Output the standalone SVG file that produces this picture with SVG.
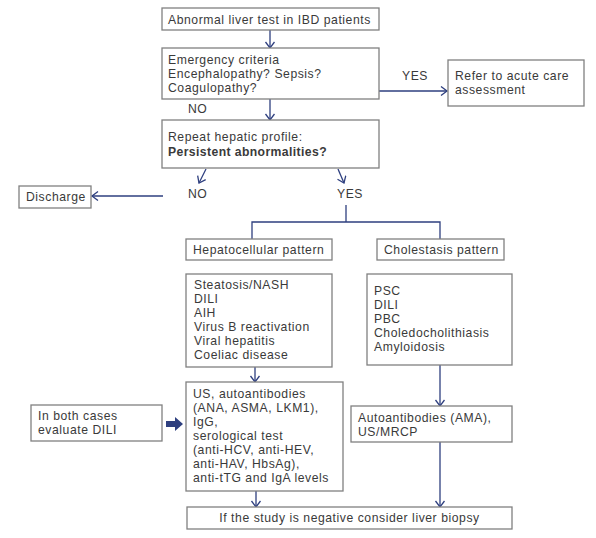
<svg xmlns="http://www.w3.org/2000/svg" width="596" height="538" viewBox="0 0 596 538">
<style>
.box{fill:#fff;stroke:#808080;stroke-width:1.3}
.t{font-family:"Liberation Sans",Arial,sans-serif;font-size:12.2px;letter-spacing:0.55px;fill:#3a3a3a}
.b{font-weight:bold;letter-spacing:0.4px}
.c{fill:none;stroke:#2e3f7f;stroke-width:1.3}
</style>
<defs>
<marker id="ah" markerUnits="userSpaceOnUse" markerWidth="10" markerHeight="12" refX="7" refY="5" orient="auto">
<path d="M1,0.5 L7,5 L1,9.5" fill="none" stroke="#2e3f7f" stroke-width="1.3"/>
</marker>
</defs>
<rect width="596" height="538" fill="#fff"/>
<g id="connectors">
<line class="c" x1="270" y1="30" x2="270" y2="48" marker-end="url(#ah)"/>
<line class="c" x1="379" y1="91" x2="447" y2="91" marker-end="url(#ah)"/>
<line class="c" x1="270" y1="99" x2="270" y2="120" marker-end="url(#ah)"/>
<line class="c" x1="206" y1="169" x2="199" y2="183" marker-end="url(#ah)"/>
<line class="c" x1="338" y1="169" x2="344" y2="183" marker-end="url(#ah)"/>
<line class="c" x1="163" y1="196" x2="92" y2="196" marker-end="url(#ah)"/>
<polyline class="c" points="346,205 346,222"/>
<polyline class="c" points="252,239 252,222 440,222 440,239"/>
<line class="c" x1="255" y1="367" x2="255" y2="382" marker-end="url(#ah)"/>
<line class="c" x1="440" y1="365" x2="440" y2="406" marker-end="url(#ah)"/>
<line class="c" x1="440" y1="442" x2="440" y2="507" marker-end="url(#ah)"/>
<line class="c" x1="256" y1="491" x2="256" y2="507" marker-end="url(#ah)"/>
<path d="M166,421 L175,421 L175,417 L183,424 L175,431 L175,427 L166,427 Z" fill="#2e3f7f"/>
<text class="t" x="402" y="80">YES</text>
<text class="t" x="188" y="113">NO</text>
<text class="t" x="188" y="198">NO</text>
<text class="t" x="337" y="198">YES</text>
</g>
<g id="n1">
<rect class="box" x="162" y="8" width="217" height="22"/>
<text class="t" x="168" y="24">Abnormal liver test in IBD patients</text>
</g>
<g id="n2">
<rect class="box" x="162" y="48" width="217" height="51"/>
<text class="t" x="168" y="64">Emergency criteria</text>
<text class="t" x="168" y="78">Encephalopathy? Sepsis?</text>
<text class="t" x="168" y="92">Coagulopathy?</text>
</g>
<g id="n3">
<rect class="box" x="448" y="60" width="136" height="46"/>
<text class="t" x="455" y="80">Refer to acute care</text>
<text class="t" x="455" y="94">assessment</text>
</g>
<g id="n4">
<rect class="box" x="162" y="120" width="217" height="48"/>
<text class="t" x="168" y="141">Repeat hepatic profile:</text>
<text class="t b" x="168" y="156">Persistent abnormalities?</text>
</g>
<g id="n5">
<rect class="box" x="19" y="186" width="72" height="22"/>
<text class="t" x="26" y="201">Discharge</text>
</g>
<g id="n6">
<rect class="box" x="186" y="239" width="146" height="21"/>
<text class="t" x="193" y="254">Hepatocellular pattern</text>
</g>
<g id="n7">
<rect class="box" x="377" y="239" width="127" height="21"/>
<text class="t" x="384" y="254">Cholestasis pattern</text>
</g>
<g id="n8">
<rect class="box" x="186" y="274" width="146" height="93"/>
<text class="t" x="194" y="289">Steatosis/NASH</text>
<text class="t" x="194" y="303">DILI</text>
<text class="t" x="194" y="317">AIH</text>
<text class="t" x="194" y="331">Virus B reactivation</text>
<text class="t" x="194" y="345">Viral hepatitis</text>
<text class="t" x="194" y="359">Coeliac disease</text>
</g>
<g id="n9">
<rect class="box" x="367" y="274" width="145" height="91"/>
<text class="t" x="374" y="295">PSC</text>
<text class="t" x="374" y="309">DILI</text>
<text class="t" x="374" y="323">PBC</text>
<text class="t" x="374" y="337">Choledocholithiasis</text>
<text class="t" x="374" y="351">Amyloidosis</text>
</g>
<g id="n10">
<rect class="box" x="31" y="405" width="131" height="36"/>
<text class="t" x="38" y="420">In both cases</text>
<text class="t" x="38" y="434">evaluate DILI</text>
</g>
<g id="n11">
<rect class="box" x="186" y="382" width="157" height="109"/>
<text class="t" x="193" y="398">US, autoantibodies</text>
<text class="t" x="193" y="412">(ANA, ASMA, LKM1),</text>
<text class="t" x="193" y="426">IgG,</text>
<text class="t" x="193" y="440">serological test</text>
<text class="t" x="193" y="454">(anti-HCV, anti-HEV,</text>
<text class="t" x="193" y="468">anti-HAV, HbsAg),</text>
<text class="t" x="193" y="482">anti-tTG and IgA levels</text>
</g>
<g id="n12">
<rect class="box" x="351" y="406" width="161" height="36"/>
<text class="t" x="358" y="422">Autoantibodies (AMA),</text>
<text class="t" x="358" y="436">US/MRCP</text>
</g>
<g id="n13">
<rect class="box" x="187" y="507" width="325" height="22"/>
<text class="t" x="349.5" y="522" text-anchor="middle">If the study is negative consider liver biopsy</text>
</g>
</svg>
